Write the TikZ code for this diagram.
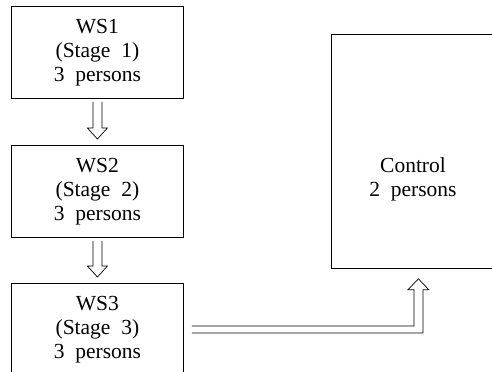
\documentclass[tikz,border=0pt]{standalone}
\usepackage{fontspec}
\setmainfont{LiberationSerif-Regular.ttf}
\usetikzlibrary{calc}
\tikzset{
  txt/.style={inner sep=0pt, align=center, font=\fontsize{21.5bp}{24bp}\selectfont},
  stbox/.style={draw, line width=0.8bp, txt,
    minimum width=172bp, minimum height=92bp, anchor=north west},
  flow/.style={draw, line width=0.7bp, line join=miter}
}
\newcommand\hdown[2]{\draw[flow] let \p1=(#1), \p2=(#2) in
  (\x1-4.5bp,\y1) -- (\x1-4.5bp,\y2+11bp) -- (\x1-10bp,\y2+11bp) -- (\x1,\y2)
  -- (\x1+10bp,\y2+11bp) -- (\x1+4.5bp,\y2+11bp) -- (\x1+4.5bp,\y1);}
\begin{document}
\begin{tikzpicture}[x=1bp,y=-1bp]
\useasboundingbox (0,0) rectangle (492,371);
\clip (0,0) rectangle (492,371);
\node[stbox] (ws1) at (11,6) {WS1\\(Stage\ \ 1)\\3\ \ persons};
\node[stbox] (ws2) at (11,145) {WS2\\(Stage\ \ 2)\\3\ \ persons};
\node[stbox] (ws3) at (11,283) {WS3\\(Stage\ \ 3)\\3\ \ persons};
\node[stbox, minimum width=174bp, minimum height=234bp] (ctrl) at (331,34) {};
\node[txt] (ctrlt) at (413,179) {Control\\2\ \ persons};
\hdown{$(ws1.south)+(0,3)$}{$(ws2.north)+(0,-6)$}
\hdown{$(ws2.south)+(0,3)$}{$(ws3.north)+(0,-6)$}
\draw[flow] let \p1=(ws3.east), \p2=(ctrl.south) in
  (\x1+8bp,\y1+3.5bp) -- (\x2-4.5bp,\y1+3.5bp) -- (\x2-4.5bp,\y2-21bp)
  -- (\x2-10.5bp,\y2-21bp) -- (\x2,\y2-10bp) -- (\x2+10.5bp,\y2-21bp)
  -- (\x2+4.5bp,\y2-21bp) -- (\x2+4.5bp,\y1-3.5bp) -- (\x1+8bp,\y1-3.5bp);
\end{tikzpicture}
\end{document}
